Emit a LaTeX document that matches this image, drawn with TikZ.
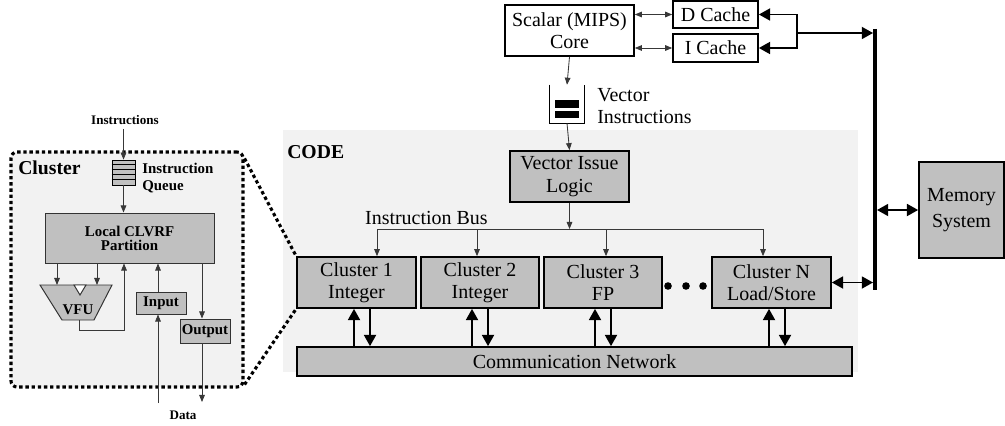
\documentclass[tikz,border=0pt]{standalone}
\usepackage{fontspec}
\setmainfont{Liberation Serif}
\usetikzlibrary{arrows.meta}
\definecolor{unitgray}{HTML}{C0C0C0}
\definecolor{areagray}{HTML}{F2F2F2}
\definecolor{wiregray}{HTML}{383838}

\begin{document}
\begin{tikzpicture}
        \tikzstyle{unit_box}  = [shape = rectangle, draw = black, line width = 1.2pt, fill = unitgray, inner sep = 0pt, align = center, font = \fontsize{14.2}{16}\selectfont]
        \tikzstyle{plain_box} = [unit_box, fill = white]
        \tikzstyle{cl_unit}   = [shape = rectangle, draw = black!80, line width = 0.7pt, fill = unitgray, inner sep = 0pt, align = center, font = \fontsize{10.6}{10}\selectfont\bfseries]
        \tikzstyle{txt}       = [inner sep = 0pt, align = left, font = \fontsize{14.2}{15.6}\selectfont]
        \tikzstyle{bold_txt}  = [inner sep = 0pt, align = left, font = \fontsize{10.6}{12}\selectfont\bfseries]
        \tikzstyle{tiny_txt}  = [inner sep = 0pt, font = \fontsize{9.3}{11}\selectfont\bfseries]
        \tikzstyle{big_txt}   = [inner sep = 0pt, font = \fontsize{14}{16}\selectfont\bfseries]
        \tikzstyle{wire}      = [->, line width = 0.6pt, draw = wiregray, >={Triangle[length=5pt, width=4pt]}]
        \tikzstyle{fat_wire}  = [line width = 1.4pt, >={Triangle[length=8pt, width=8.5pt]}]
        \tikzstyle{dots_line} = [line width = 2.2pt, dash pattern = on 2.4pt off 2pt]

        \useasboundingbox (0,0) rectangle (25.125,-10.625);

        \fill[areagray] (7.075,-3.25) rectangle (21.45,-9.3);
        \node[big_txt, anchor = west] at (7.175,-3.8) (code) {CODE};

        \node[plain_box, minimum width = 3.225cm, minimum height = 1.275cm] at (14.2375,-0.7625) (scalar) {Scalar (MIPS)\\Core};
        \node[plain_box, minimum width = 2.125cm, minimum height = 0.675cm] at (17.8875,-0.3625) (d_cache) {D Cache};
        \node[plain_box, minimum width = 2.125cm, minimum height = 0.7cm] at (17.8875,-1.2) (i_cache) {I Cache};

        \node[minimum width = 0.85cm, minimum height = 0.95cm, inner sep = 0pt] at (14.175,-2.6) (vec_q) {};
        \draw[line width = 1pt] (vec_q.north west) -- (vec_q.south west) -- (vec_q.south east) -- (vec_q.north east);
        \fill ([shift={(-0.3,0.1)}]vec_q.center) rectangle ([shift={(0.3,-0.1)}]vec_q.center);
        \fill ([shift={(-0.3,-0.175)}]vec_q.center) rectangle ([shift={(0.3,-0.35)}]vec_q.center);
        \node[txt, anchor = west] at (14.925,-2.65) (vec_q_lbl) {Vector\\Instructions};

        \node[unit_box, minimum width = 2.975cm, minimum height = 1.275cm] at (14.2375,-4.4125) (vil) {Vector Issue\\Logic};

        \node[unit_box, minimum width = 2.975cm, minimum height = 1.275cm] at (8.9125,-7.0625) (c_1) {Cluster 1\\Integer};
        \node[unit_box, minimum width = 2.95cm, minimum height = 1.275cm] at (12.0,-7.0625) (c_2) {Cluster 2\\Integer};
        \node[unit_box, minimum width = 2.95cm, minimum height = 1.275cm] at (15.075,-7.0625) (c_3) {Cluster 3\\FP};
        \node[unit_box, minimum width = 2.975cm, minimum height = 1.275cm] at (19.2875,-7.0625) (c_n) {Cluster N\\Load/Store};
        \foreach \x/\k in {16.7/1, 17.15/2, 17.575/3}
          \node[circle, fill = black, inner sep = 0pt, minimum size = 0.19cm] at (\x,-7.15) (dot_\k) {};

        \node[unit_box, minimum width = 13.875cm, minimum height = 0.725cm] at (14.3625,-9.0375) (net) {Communication Network};

        \node[unit_box, minimum width = 2.125cm, minimum height = 2.4cm, font = \fontsize{14.2}{19}\selectfont] at (24.0375,-5.25) (mem) {Memory\\System};

        \coordinate (bus_top) at (21.875,-0.725);
        \coordinate (bus_bot) at (21.875,-7.25);
        \coordinate (split)   at (19.925,-0.825);
        \coordinate (tap_1)   at (9.425,-5.725);
        \coordinate (tap_2)   at (11.925,-5.725);
        \coordinate (tap_3)   at (15.15,-5.725);
        \coordinate (tap_n)   at (19.075,-5.725);

        \draw[line width = 2.8pt] (bus_top) -- (bus_bot);

        \draw[wire, <->] (scalar.east |- d_cache.west) -- (d_cache.west);
        \draw[wire, <->] (scalar.east |- i_cache.west) -- (i_cache.west);
        \draw[wire] (scalar.south) -- (vec_q.north);
        \draw[wire] (vec_q.south) -- (vil.north);

        \draw[fat_wire, ->] (split) |- (d_cache.east);
        \draw[fat_wire, ->] (split) |- (i_cache.east);
        \draw[fat_wire, ->] (split) -- ([xshift = -1.4pt]split -| bus_top);
        \draw[fat_wire, <->] ([xshift = 1.4pt]mem.west -| bus_top) -- (mem.west);
        \draw[fat_wire, <->] (c_n.east) -- ([xshift = -1.4pt]c_n.east -| bus_top);

        \node[txt] at (10.66,-5.45) (bus_lbl) {Instruction Bus};
        \draw[wire, -] (tap_1) -- (tap_n);
        \draw[wire] (vil.south) -- (vil.south |- tap_1);
        \foreach \t/\c in {tap_1/c_1, tap_2/c_2, tap_3/c_3, tap_n/c_n}
          \draw[wire] (\t) -- (\t |- \c.north);

        \foreach \up/\dn/\c in {8.85/9.25/c_1, 11.8/12.2/c_2, 14.875/15.275/c_3, 19.225/19.625/c_n} {
          \draw[fat_wire, ->] (\up,0 |- net.north) -- (\up,0 |- \c.south);
          \draw[fat_wire, ->] (\dn,0 |- \c.south) -- (\dn,0 |- net.north);
        }

        \node[draw = black, dots_line, rounded corners = 0.15cm, fill = areagray, minimum width = 5.8cm, minimum height = 5.875cm, inner sep = 0pt] at (3.175,-6.7375) (cl_box) {};
        \draw[dots_line] ([yshift = -0.2cm]cl_box.north east) -- (c_1.north west);
        \draw[dots_line] ([yshift = 0.1cm]cl_box.south east) -- (c_1.south west);
        \node[big_txt, anchor = west] at (0.45,-4.2) (cl_title) {Cluster};

        \node[tiny_txt] at (3.125,-3.0) (cl_instr) {Instructions};
        \node[shape = rectangle, draw = black, line width = 0.6pt, fill = unitgray, minimum width = 0.575cm, minimum height = 0.625cm, inner sep = 0pt] at (3.0875,-4.3125) (cl_q) {};
        \foreach \k in {1,...,4}
          \draw[line width = 0.5pt] ([yshift = -\k*0.125cm]cl_q.north west) -- ([yshift = -\k*0.125cm]cl_q.north east);
        \node[bold_txt, anchor = west] at (3.55,-4.45) (cl_q_lbl) {Instruction\\Queue};
        \draw[wire] (cl_q.north |- cl_instr.south) ++(0,-0.1) -- (cl_q.north);

        \node[cl_unit, minimum width = 4.225cm, minimum height = 1.25cm] at (3.2375,-5.95) (cl_rf) {Local CLVRF\\Partition};
        \draw[wire] (cl_q.south) -- (cl_q.south |- cl_rf.north);

        \coordinate (vfu_tl) at (1.0,-7.125);
        \coordinate (vfu_tr) at (2.8,-7.125);
        \coordinate (vfu_br) at (2.35,-8.0);
        \coordinate (vfu_bl) at (1.55,-8.0);
        \coordinate (vfu_b)  at (1.975,-8.0);
        \draw[fill = unitgray, draw = black!80, line width = 0.7pt] (vfu_tl) -- (vfu_tr) -- (vfu_br) -- (vfu_bl) -- cycle;
        \draw[fill = white, draw = black!80, line width = 0.7pt] (1.85,-7.125) -- (2.15,-7.125) -- (2.0,-7.375) -- cycle;
        \node[bold_txt] at (1.95,-7.75) (vfu) {VFU};
        \draw[wire] (1.425,0 |- cl_rf.south) -- (1.425,0 |- vfu_tl);
        \draw[wire] (2.425,0 |- cl_rf.south) -- (2.425,0 |- vfu_tl);
        \draw[wire] (vfu_b) -- ++(0,-0.25) -| (3.1,0 |- cl_rf.south);

        \node[cl_unit, minimum width = 1.25cm, minimum height = 0.55cm] at (4.025,-7.575) (cl_in) {Input};
        \node[cl_unit, minimum width = 1.25cm, minimum height = 0.6cm] at (5.125,-8.275) (cl_out) {Output};
        \coordinate (data_in)  at (3.95,-10.075);
        \coordinate (data_out) at (5.05,-10.05);
        \draw[wire] (3.95,0 |- cl_in.north) -- (3.95,0 |- cl_rf.south);
        \draw[wire] (data_in) -- (data_in |- cl_in.south);
        \draw[wire] (5.05,0 |- cl_rf.south) -- (5.05,0 |- cl_out.north);
        \draw[wire] (5.05,0 |- cl_out.south) -- (data_out);
        \node[tiny_txt] at (4.575,-10.375) (data_lbl) {Data};
\end{tikzpicture}
\end{document}
